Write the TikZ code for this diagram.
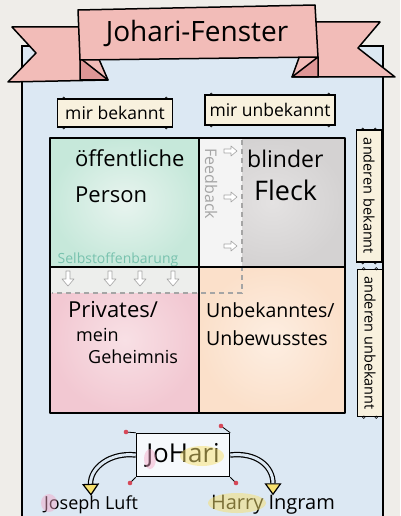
\documentclass[tikz,border=0pt]{standalone}
\usepackage{fontspec}
\setmainfont{Open Sans}
\usetikzlibrary{arrows.meta,positioning,calc}
\definecolor{paper}{RGB}{239,237,233}
\definecolor{sheetblue}{RGB}{220,232,243}
\definecolor{bannerpink}{RGB}{242,188,184}
\definecolor{bannerdark}{RGB}{222,150,150}
\definecolor{labelcream}{RGB}{248,241,222}
\definecolor{quadteal}{RGB}{198,232,218}
\definecolor{quadtealin}{RGB}{232,244,239}
\definecolor{quadgray}{RGB}{212,210,210}
\definecolor{quadgrayin}{RGB}{228,226,226}
\definecolor{quadpink}{RGB}{242,200,210}
\definecolor{quadpinkin}{RGB}{248,224,229}
\definecolor{quadpeach}{RGB}{251,224,202}
\definecolor{quadpeachin}{RGB}{253,238,226}
\definecolor{fbgray}{RGB}{165,165,165}
\definecolor{selbstteal}{RGB}{120,194,174}
\definecolor{pinred}{RGB}{214,72,88}
\definecolor{hlyellow}{RGB}{246,224,110}
\definecolor{hlpink}{RGB}{244,165,198}

\begin{document}
\begin{tikzpicture}[x=1pt, y=-1pt,
    every node/.style={inner sep=0pt, font=\fontsize{18}{18}\selectfont},
    labelbox/.style={draw, line width=1.4pt, fill=labelcream, font=\fontsize{17.5}{17.5}\selectfont},
    sidebox/.style={labelbox, rotate=-90, font=\fontsize{14.5}{14.5}\selectfont},
    quadtext/.style={anchor=north west, align=left, font=\fontsize{22}{36}\selectfont},
    hollowarrow/.style={draw=fbgray, fill=white, line width=0.6pt, line join=round},
    namearrow/.style={line width=1.2pt, double=sheetblue, double distance=3pt,
      -{Triangle[fill=hlyellow, length=12pt, width=17pt]}}]
  \useasboundingbox (0,0) rectangle (400,516);
  \fill[paper] (0,0) rectangle (400,516);
  % --- blue sheet ---
  \fill[sheetblue] (22,46) rectangle (383,520);
  \draw[line width=1.5pt] (22,520) -- (22,46) -- (383,46) -- (383,520);
  % --- banner ---
  \filldraw[fill=bannerpink, line width=1.5pt, line join=round]
    (12,27) -- (85,27) -- (108,80) -- (8,82) -- (36,53) -- cycle;
  \filldraw[fill=bannerdark, line width=1.5pt, line join=round]
    (80,58) -- (108,80) -- (80,80) -- cycle;
  \filldraw[fill=bannerpink, line width=1.5pt, line join=round]
    (312,22) -- (380,22) -- (358,48) -- (395,77) -- (292,77) -- cycle;
  \filldraw[fill=bannerdark, line width=1.5pt, line join=round]
    (318,57) -- (292,77) -- (318,77) -- cycle;
  \filldraw[fill=bannerpink, line width=1.5pt, line join=round]
    (78,10) -- (315,5) -- (318,57) -- (80,60) -- cycle;
  \node[font=\fontsize{28}{28}\selectfont] (title) at (197,33) {Johari-Fenster};
  % --- column and row labels ---
  \node[labelbox, minimum width=115pt, minimum height=28pt] (mirbek) at (115,113) {mir bekannt};
  \node[labelbox, minimum width=130pt, minimum height=30pt] (mirunbek) at (270,110) {mir unbekannt};
  \node[sidebox, minimum width=132pt, minimum height=25pt] (andbek) at (369,196) {anderen bekannt};
  \node[sidebox, minimum width=147pt, minimum height=25pt] (andunbek) at (370,343) {anderen unbekannt};
  \foreach \n in {mirbek,mirunbek,andbek,andunbek}{
    \foreach \a in {north west,north east,south west,south east}{
      \coordinate (c) at ($(\n.\a)!3.5pt!(\n.center |- \n.\a)$);
      \draw[line width=0.5pt] ($(c)!3.5pt!(c -| \n.center)$) circle (1.3pt);
    }
  }
  % --- quadrant fills ---
  \shade[inner color=quadtealin, outer color=quadteal] (50,138) rectangle (199,267);
  \shade[inner color=quadgrayin, outer color=quadgray] (199,138) rectangle (345,267);
  \fill[white!60!quadgrayin] (199,138) rectangle (242,267);
  \shade[inner color=quadpinkin, outer color=quadpink] (50,267) rectangle (199,413);
  \fill[quadtealin!70!quadpinkin] (50,267) rectangle (199,293);
  \shade[inner color=quadpeachin, outer color=quadpeach] (199,267) rectangle (345,413);
  % --- feedback / self-disclosure ---
  \draw[fbgray, line width=2.5pt, dash pattern=on 5pt off 4pt] (242,140) -- (242,293) -- (52,293);
  \node[rotate=-90, text=fbgray, font=\fontsize{16}{16}\selectfont] (feedback) at (211,184) {Feedback};
  \node[text=selbstteal, font=\fontsize{14}{14}\selectfont] (selbst) at (118,260) {Selbstoffenbarung};
  \foreach \y in {151,197,246}{
    \draw[hollowarrow] (232,\y) ++(-8,-2) -- ++(7,0) -- ++(0,-3) -- ++(6,5) -- ++(-6,5) -- ++(0,-3) -- ++(-7,0) -- cycle;
  }
  \foreach \x in {68,110,140,173}{
    \draw[hollowarrow] (\x,279) ++(-2,-8) -- ++(4,0) -- ++(0,8) -- ++(4,0) -- ++(-6,7) -- ++(-6,-7) -- ++(4,0) -- cycle;
  }
  % --- grid ---
  \draw[line width=1.8pt, line join=round] (50,138) rectangle (345,413);
  \draw[line width=1.8pt] (199,138) -- (199,413);
  \draw[line width=1.8pt] (50,267) -- (345,267);
  % --- quadrant texts ---
  \node[quadtext] (oeff) at (75,149) {öffentliche\\Person};
  \node[quadtext, font=\fontsize{23}{23}\selectfont] (blind) at (247,150)
    {blinder\\[10pt]\hspace{7pt}{\fontsize{27}{27}\selectfont Fleck}};
  \node[quadtext] (priv) at (68,301)
    {Privates/\\[-12pt]\hspace{8pt}{\fontsize{18}{18}\selectfont mein}\\[-14pt]\hspace{20pt}{\fontsize{18}{18}\selectfont Geheimnis}};
  \node[quadtext, font=\fontsize{19.5}{28}\selectfont] (unbek) at (206,302) {Unbekanntes/\\Unbewusstes};
  % --- JoHari ---
  \node[draw, line width=1.5pt, fill=white!75!sheetblue, minimum width=93pt, minimum height=43pt,
    font=\fontsize{26}{26}\selectfont] (johari) at (183,455) {JoHari};
  \fill[hlpink, opacity=0.45] (150,459) ellipse (6pt and 10pt);
  \fill[hlyellow, opacity=0.5] (202,456) ellipse (22pt and 10pt);
  \foreach \a/\px/\py in {north west/126/432, north east/221/426, south west/130/483, south east/236/483}{
    \draw[line width=0.8pt] (johari.\a) -- (\px,\py);
    \fill[pinred] (\px,\py) circle (2.3pt);
  }
  % --- names ---
  \node (luft) at (91,505) {Joseph Luft};
  \node[font=\fontsize{20}{20}\selectfont] (ingram) at (273,505) {Harry Ingram};
  \fill[hlpink, opacity=0.45] (49,503) ellipse (8pt and 9pt);
  \fill[hlyellow, opacity=0.5] (237,503) ellipse (29pt and 10pt);
  \draw[namearrow] (johari.west) .. controls (110,452) and (90,468) .. (luft.north);
  \draw[namearrow] (johari.east) .. controls (256,452) and (273,466) .. (ingram.north);
\end{tikzpicture}
\end{document}
